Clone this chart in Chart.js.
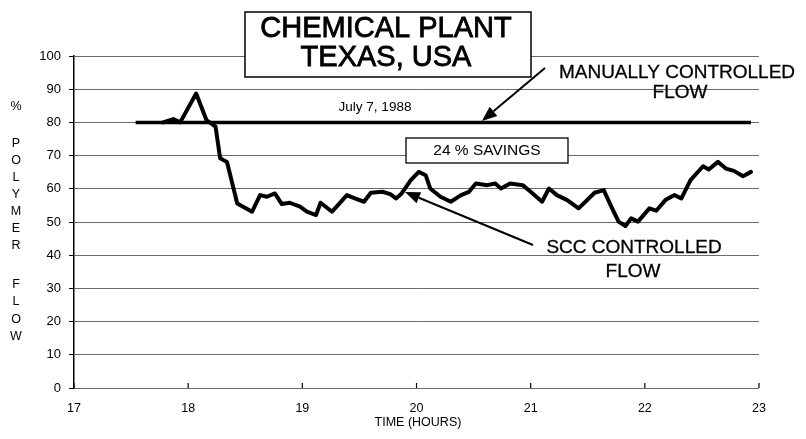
<!DOCTYPE html>
<html><head><meta charset="utf-8">
<script src="https://cdn.jsdelivr.net/npm/chart.js@4.4.1/dist/chart.umd.min.js"></script>
<style>html,body{margin:0;padding:0;background:#fff;}#wrap{width:806px;height:439px;position:relative;}</style>
</head><body><div id="wrap"><canvas id="c" width="806" height="439"></canvas></div>
<script>
const xTicks = [17, 18, 19, 20, 21, 22, 23];
const yTicks = [0, 10, 20, 30, 40, 50, 60, 70, 80, 90, 100];
const manualTime = [17.54, 22.93];
const manualFlow = [80, 80];
const sccTime = [17.78, 17.87, 17.93, 18.07, 18.16, 18.24, 18.28, 18.34, 18.43, 18.56, 18.63, 18.69, 18.76, 18.82, 18.89, 18.98, 19.04, 19.12, 19.16, 19.26, 19.32, 19.39, 19.46, 19.54, 19.60, 19.70, 19.77, 19.82, 19.87, 19.95, 20.02, 20.08, 20.12, 20.21, 20.30, 20.39, 20.46, 20.52, 20.62, 20.69, 20.74, 20.82, 20.93, 21.00, 21.10, 21.16, 21.23, 21.32, 21.42, 21.56, 21.64, 21.70, 21.77, 21.83, 21.88, 21.94, 22.04, 22.10, 22.18, 22.26, 22.32, 22.40, 22.51, 22.56, 22.64, 22.71, 22.78, 22.86, 22.93];
const sccFlow = [80, 81, 80, 88.7, 80.7, 78.7, 69.2, 68.1, 55.6, 53.1, 58.1, 57.6, 58.6, 55.4, 55.8, 54.6, 53.1, 52.1, 55.8, 53.1, 55.4, 58.1, 57.1, 56.1, 58.8, 59.1, 58.4, 57.1, 58.6, 62.6, 65.1, 64.1, 60.1, 57.6, 56.1, 58.1, 59.1, 61.6, 61.1, 61.6, 60.1, 61.6, 61.1, 59.1, 56.1, 60.1, 58.1, 56.6, 54.1, 58.8, 59.6, 55.1, 50.1, 48.8, 51.1, 50.1, 54.1, 53.4, 56.6, 58.1, 57.1, 62.6, 66.8, 65.8, 68.1, 66.1, 65.4, 63.8, 65.1];

const FONT = "'Liberation Sans', Arial, Helvetica, sans-serif";

function arrow(ctx, x1, y1, x2, y2) {
  const ang = Math.atan2(y2 - y1, x2 - x1);
  const L = 15, W = 6;
  const bx = x2 - L * Math.cos(ang), by = y2 - L * Math.sin(ang);
  ctx.beginPath();
  ctx.moveTo(x1, y1); ctx.lineTo(bx, by);
  ctx.lineWidth = 2; ctx.strokeStyle = '#000'; ctx.stroke();
  ctx.beginPath();
  ctx.moveTo(x2, y2);
  ctx.lineTo(bx + W * Math.sin(ang), by - W * Math.cos(ang));
  ctx.lineTo(bx - W * Math.sin(ang), by + W * Math.cos(ang));
  ctx.closePath(); ctx.fillStyle = '#000'; ctx.fill();
}

function heavyText(ctx, t, x, y, w) {
  ctx.fillText(t, x, y);
  ctx.lineWidth = w; ctx.strokeStyle = '#000'; ctx.strokeText(t, x, y);
}

const decor = {
  id: 'decor',
  afterDraw(chart) {
    const ctx = chart.ctx, xs = chart.scales.x, ca = chart.chartArea;
    ctx.save();
    ctx.strokeStyle = '#000'; ctx.lineWidth = 1.2;
    xTicks.forEach(v => {
      const px = xs.getPixelForValue(v);
      ctx.beginPath(); ctx.moveTo(px, ca.bottom - 5); ctx.lineTo(px, ca.bottom); ctx.stroke();
    });
    ctx.fillStyle = '#fff';
    ctx.fillRect(245, 12, 286, 65);
    ctx.lineWidth = 1.5; ctx.strokeStyle = '#000';
    ctx.strokeRect(245, 12, 286, 65);
    ctx.fillStyle = '#000'; ctx.textAlign = 'center'; ctx.textBaseline = 'middle';
    ctx.font = '29px ' + FONT;
    heavyText(ctx, 'CHEMICAL PLANT', 386, 29, 0.8);
    heavyText(ctx, 'TEXAS, USA', 386, 58, 0.8);
    ctx.font = '13.5px ' + FONT;
    ctx.fillText('July 7, 1988', 375, 107);
    ctx.font = '19px ' + FONT;
    heavyText(ctx, 'MANUALLY CONTROLLED', 677, 73, 0.3);
    heavyText(ctx, 'FLOW', 680, 93, 0.3);
    arrow(ctx, 545, 68, 482, 121);
    ctx.fillStyle = '#fff'; ctx.fillRect(406, 138, 162, 25);
    ctx.lineWidth = 1.3; ctx.strokeStyle = '#000'; ctx.strokeRect(406, 138, 162, 25);
    ctx.fillStyle = '#000'; ctx.font = '15.5px ' + FONT;
    ctx.fillText('24 % SAVINGS', 487, 151);
    ctx.font = '19px ' + FONT;
    heavyText(ctx, 'SCC CONTROLLED', 634, 248, 0.3);
    heavyText(ctx, 'FLOW', 633, 272, 0.3);
    arrow(ctx, 533, 245, 405, 192);
    ctx.font = '12.5px ' + FONT;
    const letters = [['%', 107], ['P', 144], ['O', 161], ['L', 178], ['Y', 195], ['M', 212], ['E', 229], ['R', 246], ['F', 285], ['L', 302], ['O', 320], ['W', 337]];
    letters.forEach(([t, y]) => ctx.fillText(t, 16, y));
    ctx.font = '12.5px ' + FONT;
    ctx.fillText('TIME (HOURS)', 418, 423);
    ctx.restore();
  }
};

new Chart(document.getElementById('c'), {
  type: 'line',
  data: {
    datasets: [
      { label: 'Manual', data: manualTime.map((t, i) => ({ x: t, y: manualFlow[i] })), borderColor: '#000', borderWidth: 3.5, pointRadius: 0, tension: 0 },
      { label: 'SCC', data: sccTime.map((t, i) => ({ x: t, y: sccFlow[i] })), borderColor: '#000', borderWidth: 4, pointRadius: 0, tension: 0, borderJoinStyle: 'round', borderCapStyle: 'round' }
    ]
  },
  options: {
    responsive: false, animation: false,
    layout: { padding: { top: 56, right: 47, bottom: 0, left: 0 } },
    plugins: { legend: { display: false }, tooltip: { enabled: false } },
    scales: {
      x: {
        type: 'linear', min: 17, max: 23,
        afterBuildTicks: s => { s.ticks = xTicks.map(v => ({ value: v })); },
        afterFit: s => { s.height = 51; },
        grid: { display: false, drawTicks: false },
        border: { display: false },
        ticks: { padding: 13, color: '#000', font: { family: FONT, size: 12.5 }, maxRotation: 0 }
      },
      y: {
        min: 0, max: 100,
        afterBuildTicks: s => { s.ticks = yTicks.map(v => ({ value: v })); },
        afterFit: s => { s.width = 74; },
        grid: { color: '#6a6a6a', lineWidth: 1, borderDash: [8, 4, 2, 4], tickColor: '#000', tickLength: 5, tickBorderDash: [] },
        border: { display: true, color: '#000', width: 1.5 },
        ticks: { padding: 8, color: '#000', font: { family: FONT, size: 13 } }
      }
    }
  },
  plugins: [decor]
});
</script>
</body></html>
